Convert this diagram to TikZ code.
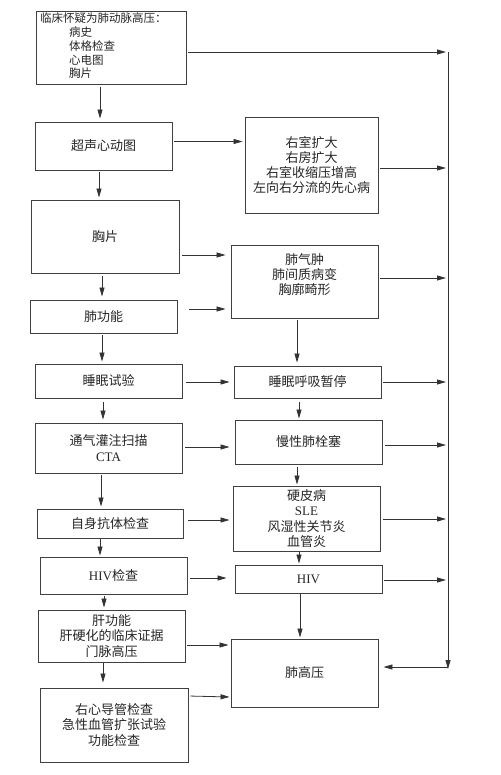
\documentclass[tikz,border=0pt]{standalone}
\usepackage{fontspec}
\setmainfont{Liberation Serif}
\newfontfamily\cjk{Noto Sans CJK SC}
\usetikzlibrary{arrows.meta, positioning, calc}

\begin{document}
\begin{tikzpicture}[x=1pt, y=-1pt,
    box/.style={draw=black!75, line width=0.9pt, minimum width=147pt, align=center,
                inner sep=2pt, font=\cjk\fontsize{13}{15.3}\selectfont, text=black!85},
    arr/.style={-{Triangle[length=9pt, width=5pt]}, line width=0.8pt, draw=black!80}
]
    \fill[white] (0,0) rectangle (500,775);

    % Left column
    \node[box, minimum width=150pt, minimum height=73pt] (susp) at (111,47.5) {};
    \node[anchor=north west, inner sep=0pt, align=left, text=black!85,
          font=\cjk\fontsize{11.5}{13.75}\selectfont] (susptxt) at (40,13)
        {临床怀疑为肺动脉高压：\\
         \hspace*{29pt}病史\\ \hspace*{29pt}体格检查\\
         \hspace*{29pt}心电图\\ \hspace*{29pt}胸片};
    \node[box, minimum width=137pt, minimum height=48pt] (echo) at (103.5,146) {超声心动图};
    \node[box, minimum width=148pt, minimum height=73pt] (xray) at (105,236.5) {胸片};
    \node[box, minimum height=33pt] (pft) at (103.5,316.5) {肺功能};
    \node[box, minimum height=34pt] (sleep) at (108.5,381) {睡眠试验};
    \node[box, minimum height=50pt] (vq) at (108.5,448) {通气灌注扫描\\{\rmfamily CTA}};
    \node[box, minimum width=146pt, minimum height=29pt] (auto) at (110,523.5) {自身抗体检查};
    \node[box, minimum height=37pt] (hivt) at (113.5,575.5) {{\rmfamily HIV}检查};
    \node[box, minimum height=52pt] (liver) at (111.5,636) {肝功能\\肝硬化的临床证据\\门脉高压};
    \node[box, minimum width=148pt, minimum height=74pt] (rhc) at (114,725)
        {右心导管检查\\急性血管扩张试验\\功能检查};

    % Right column
    \node[box, minimum width=133pt, minimum height=96pt] (heart) at (311.5,165)
        {右室扩大\\右房扩大\\右室收缩压增高\\左向右分流的先心病};
    \node[box, minimum height=73pt] (lung) at (304.5,281.5)
        {肺气肿\\肺间质病变\\胸廓畸形\\ \mbox{}};
    \node[box, minimum height=32pt] (apnea) at (307.5,382) {睡眠呼吸暂停};
    \node[box, minimum height=44pt] (cteph) at (308.5,442) {慢性肺栓塞};
    \node[box, minimum height=65pt] (ctd) at (306.5,518.5)
        {硬皮病\\{\rmfamily SLE}\\风湿性关节炎\\血管炎};
    \node[box, minimum height=28pt] (hiv) at (308.5,579) {\rmfamily HIV};
    \node[box, minimum height=68pt] (ph) at (304.5,673) {肺高压};

    % Collecting line on the right
    \coordinate (bustop) at (448,52);
    \coordinate (busbot) at (448,667);
    \draw[arr] (bustop) -- ([yshift=-2pt]busbot);
    \draw[arr, shorten >=5pt] (busbot) -- (busbot -| ph.east);

    % Downward links, left column
    \draw[arr, shorten <=3pt, shorten >=3pt] (susp.south -| 100,0) -- (echo.north -| 100,0);
    \draw[arr, shorten <=2pt, shorten >=2pt] (echo.south -| 99,0) -- (xray.north -| 99,0);
    \draw[arr, shorten <=3pt, shorten >=3pt] (xray.south -| 102,0) -- (pft.north -| 102,0);
    \draw[arr, shorten <=2pt, shorten >=2pt] (pft.south -| 102,0) -- (sleep.north -| 102,0);
    \draw[arr, shorten <=4pt, shorten >=3pt] (sleep.south -| 103,0) -- (vq.north -| 103,0);
    \draw[arr, shorten <=2pt, shorten >=2pt] (vq.south -| 101,0) -- (auto.north -| 101,0);
    \draw[arr, shorten <=1pt, shorten >=1pt] (auto.south -| 100,0) -- (hivt.north -| 100,0);
    \draw[arr, shorten <=2pt, shorten >=2pt] (hivt.south -| 104,0) -- (liver.north -| 104,0);
    \draw[arr, shorten <=1pt, shorten >=5pt] (liver.south -| 103,0) -- (rhc.north -| 103,0);

    % Downward links, right column
    \draw[arr, shorten <=2pt, shorten >=3pt] (lung.south -| 297,0) -- (apnea.north -| 297,0);
    \draw[arr, shorten <=4pt, shorten >=1pt] (apnea.south -| 299,0) -- (cteph.north -| 299,0);
    \draw[arr, shorten <=3pt, shorten >=1pt] (cteph.south -| 297,0) -- (ctd.north -| 297,0);
    \draw[arr, shorten <=1pt, shorten >=1pt] (ctd.south -| 299,0) -- (hiv.north -| 299,0);
    \draw[arr, shorten <=1pt, shorten >=1pt] (hiv.south -| 300,0) -- (ph.north -| 300,0);

    % Links to the right column
    \draw[arr, shorten <=2pt, shorten >=2pt] (echo.east |- 0,141.5) -- (heart.west |- 0,141.5);
    \draw[arr, shorten <=3pt, shorten >=5pt] (xray.east |- 0,255) -- (lung.west |- 0,255);
    \draw[arr, shorten <=12pt, shorten >=5pt] (pft.east |- 0,309) -- (lung.west |- 0,309);
    \draw[arr, shorten <=4pt, shorten >=4pt] (sleep.east |- 0,382) -- (apnea.west |- 0,382);
    \draw[arr, shorten <=3pt, shorten >=5pt] (vq.east |- 0,447) -- (cteph.west |- 0,447);
    \draw[arr, shorten <=5pt, shorten >=3pt] (auto.east |- 0,520) -- (ctd.west |- 0,520);
    \draw[arr, shorten <=3pt, shorten >=8pt] (hivt.east |- 0,578) -- (hiv.west |- 0,578);
    \draw[arr, shorten <=2pt, shorten >=2pt] (liver.east |- 0,645) -- (ph.west |- 0,645);
    \draw[arr, shorten <=2pt, shorten >=1pt] (rhc.east |- 0,696) -- (ph.west |- 0,697);

    % Links to the collecting line
    \draw[arr, shorten <=2pt, shorten >=2pt] (susp.east |- bustop) -- (bustop);
    \draw[arr, shorten <=2pt, shorten >=2pt] (heart.east |- 0,168) -- (bustop |- 0,168);
    \draw[arr, shorten <=2pt, shorten >=2pt] (lung.east |- 0,278) -- (bustop |- 0,278);
    \draw[arr, shorten <=2pt, shorten >=2pt] (apnea.east |- 0,382) -- (bustop |- 0,382);
    \draw[arr, shorten <=3pt, shorten >=2pt] (cteph.east |- 0,445) -- (bustop |- 0,445);
    \draw[arr, shorten <=3pt, shorten >=2pt] (ctd.east |- 0,519) -- (bustop |- 0,519);
    \draw[arr, shorten <=2pt, shorten >=2pt] (hiv.east |- 0,580) -- (bustop |- 0,580);
\end{tikzpicture}
\end{document}
